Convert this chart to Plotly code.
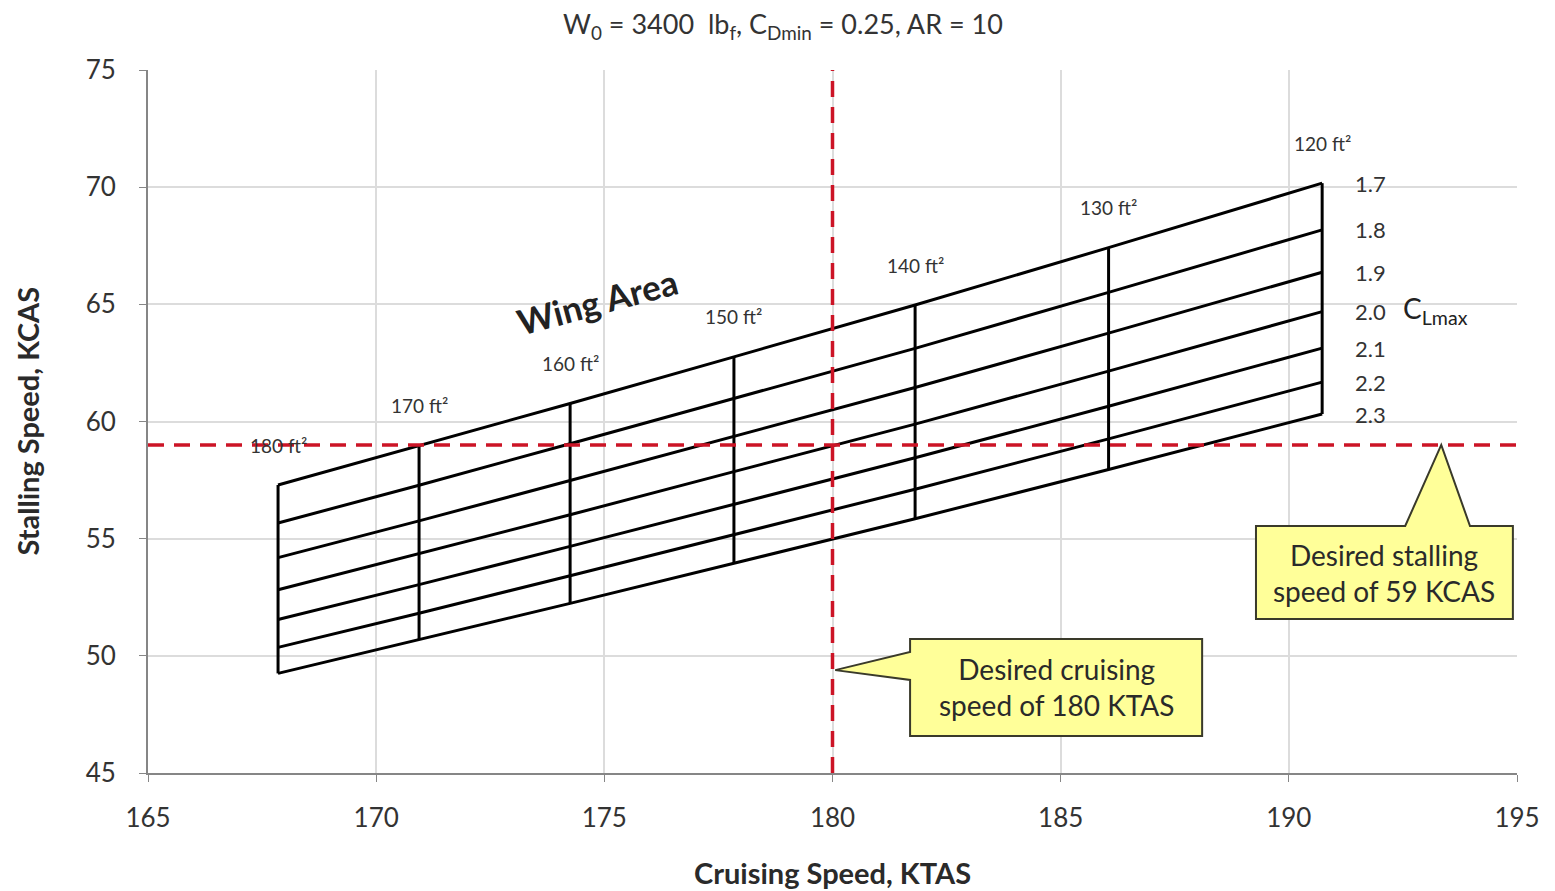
import plotly.graph_objects as go

# ---- data ----
wing_areas = [180, 170, 160, 150, 140, 130, 120]            # ft^2
cruise_speed = [167.85, 170.94, 174.25, 177.84, 181.81, 186.05, 190.73]  # KTAS
clmax = [1.7, 1.8, 1.9, 2.0, 2.1, 2.2, 2.3]
# stalling speed (KCAS): rows = wing area (same order as wing_areas), cols = CLmax
stall_180 = [57.29, 55.67, 54.19, 52.82, 51.55, 50.36, 49.25]
stall_170 = [58.96, 57.28, 55.76, 54.35, 53.04, 51.82, 50.68]
stall_160 = [60.77, 59.05, 57.48, 56.02, 54.67, 53.42, 52.24]
stall_150 = [62.76, 60.98, 59.36, 57.86, 56.47, 55.17, 53.95]
stall_140 = [64.97, 63.12, 61.45, 59.89, 58.45, 57.11, 55.85]
stall_130 = [67.42, 65.51, 63.77, 62.15, 60.65, 59.26, 57.95]
stall_120 = [70.17, 68.18, 66.37, 64.69, 63.13, 61.68, 60.32]
stall = [stall_180, stall_170, stall_160, stall_150, stall_140, stall_130, stall_120]

desired_cruise = 180
desired_stall = 59
x_range = [165, 195]
y_range = [45, 75]
x_ticks = [165, 170, 175, 180, 185, 190, 195]
y_ticks = [45, 50, 55, 60, 65, 70, 75]

FONT = "Lato"
TXT = "#333333"
RED = "#CC1426"

fig = go.Figure()

# constant CLmax lines
for j, cl in enumerate(clmax):
    fig.add_trace(go.Scatter(
        x=cruise_speed, y=[row[j] for row in stall], mode="lines",
        line=dict(color="black", width=3), showlegend=False, hoverinfo="skip"))

# constant wing-area lines
for i, s in enumerate(wing_areas):
    fig.add_trace(go.Scatter(
        x=[cruise_speed[i]] * len(clmax), y=stall[i], mode="lines",
        line=dict(color="black", width=3), showlegend=False, hoverinfo="skip"))

# desired lines
fig.add_trace(go.Scatter(x=[desired_cruise, desired_cruise], y=y_range, mode="lines",
                         line=dict(color=RED, width=3.5, dash="16px,10px"),
                         showlegend=False, hoverinfo="skip", cliponaxis=False))
fig.add_trace(go.Scatter(x=x_range, y=[desired_stall, desired_stall], mode="lines",
                         line=dict(color=RED, width=3.5, dash="16px,10px"),
                         showlegend=False, hoverinfo="skip", cliponaxis=False))

ann = []
# wing area labels
for i, s in enumerate(wing_areas):
    ann.append(dict(x=cruise_speed[i], y=stall[i][0], yshift=40, text=f"{s} ft²",
                    showarrow=False, font=dict(family=FONT, size=19, color=TXT)))
# CLmax labels
for j, cl in enumerate(clmax):
    ann.append(dict(x=cruise_speed[-1], y=stall[-1][j], xshift=48, text=f"{cl:.1f}",
                    showarrow=False, font=dict(family=FONT, size=22, color=TXT)))
ann.append(dict(x=cruise_speed[-1], y=stall[-1][3], xshift=113, yshift=2,
                text="C<sub>Lmax</sub>", showarrow=False,
                font=dict(family=FONT, size=28, color="#222")))
ann.append(dict(x=174.85, y=65.15, text="<b>Wing Area</b>", textangle=-15, showarrow=False,
                font=dict(family=FONT, size=35, color="#222")))

# title
ann.append(dict(xref="paper", yref="paper", x=0.464, y=1.0, yshift=45, yanchor="middle",
                text="W<sub>0</sub> = 3400  lb<sub>f</sub>, C<sub>Dmin</sub> = 0.25, AR = 10",
                showarrow=False, font=dict(family=FONT, size=27, color=TXT)))

# axis titles
ann.append(dict(xref="paper", yref="paper", x=0.5, y=0.0, yshift=-99, yanchor="middle",
                text="<b>Cruising Speed, KTAS</b>", showarrow=False,
                font=dict(family=FONT, size=29, color="#2a2a2a")))
ann.append(dict(xref="paper", yref="paper", x=0.0, y=0.5, xshift=-121, xanchor="center",
                yanchor="middle", textangle=-90,
                text="<b>Stalling Speed, KCAS</b>", showarrow=False,
                font=dict(family=FONT, size=29, color="#2a2a2a")))

# callouts
YEL = "#FFFF99"
box1 = dict(x0=181.70, x1=188.10, y0=46.58, y1=50.72)
box2 = dict(x0=189.28, x1=194.91, y0=51.57, y1=55.54)
path1 = (f"M {box1['x0']},{box1['y1']} L {box1['x1']},{box1['y1']} L {box1['x1']},{box1['y0']} "
         f"L {box1['x0']},{box1['y0']} L {box1['x0']},48.97 L {desired_cruise + 0.06},49.39 "
         f"L {box1['x0']},50.16 Z")
path2 = (f"M {box2['x0']},{box2['y1']} L 192.55,{box2['y1']} L 193.34,{desired_stall} "
         f"L 193.97,{box2['y1']} L {box2['x1']},{box2['y1']} L {box2['x1']},{box2['y0']} "
         f"L {box2['x0']},{box2['y0']} Z")
shapes = [
    dict(type="path", path=path1, xref="x", yref="y", fillcolor=YEL,
         line=dict(color="#3a3a2a", width=2), layer="above"),
    dict(type="path", path=path2, xref="x", yref="y", fillcolor=YEL,
         line=dict(color="#3a3a2a", width=2), layer="above"),
]
ann.append(dict(x=(box1["x0"] + box1["x1"]) / 2, y=(box1["y0"] + box1["y1"]) / 2,
                text="Desired cruising<br>speed of 180 KTAS", showarrow=False,
                font=dict(family=FONT, size=28, color="#2a2a2a")))
ann.append(dict(x=(box2["x0"] + box2["x1"]) / 2, y=(box2["y0"] + box2["y1"]) / 2,
                text="Desired stalling<br>speed of 59 KCAS", showarrow=False,
                font=dict(family=FONT, size=28, color="#2a2a2a")))

fig.update_layout(
    width=1547, height=883,
    margin=dict(l=140, r=38, t=62, b=118, autoexpand=False),
    plot_bgcolor="white", paper_bgcolor="white",
    annotations=ann, shapes=shapes,
    font=dict(family=FONT, color=TXT),
    xaxis=dict(range=x_range, tickvals=x_ticks, showgrid=True, gridcolor="#dcdcdc",
               gridwidth=1.5, showline=True, linecolor="#868686", linewidth=2,
               ticks="outside", ticklen=7, tickcolor="#868686", zeroline=False,
               ticklabelstandoff=14, automargin=False,
               tickfont=dict(family=FONT, size=26, color=TXT)),
    yaxis=dict(range=y_range, tickvals=y_ticks, showgrid=True, gridcolor="#dcdcdc",
               gridwidth=1.5, showline=True, linecolor="#868686", linewidth=2,
               ticks="outside", ticklen=7, tickcolor="#868686", zeroline=False,
               ticklabelstandoff=18, automargin=False,
               tickfont=dict(family=FONT, size=26, color=TXT)),
)

fig.write_html("out.html")
